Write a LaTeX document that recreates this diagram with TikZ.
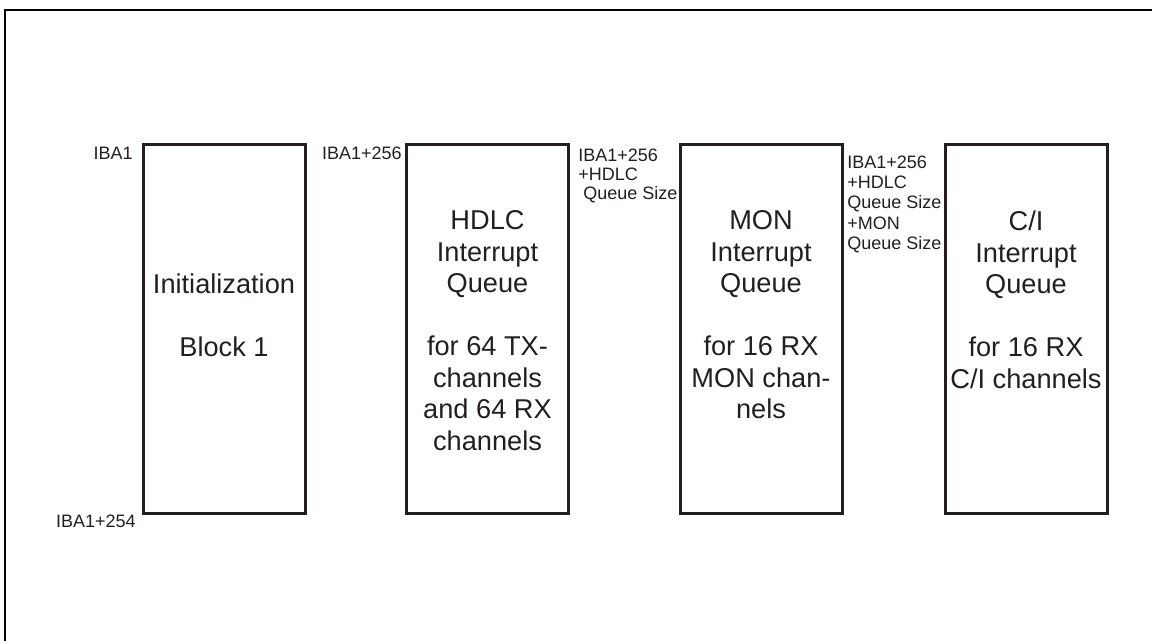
\documentclass[tikz,border=0pt]{standalone}
\usepackage{fontspec}
\setmainfont{Liberation Sans}
\usetikzlibrary{positioning}
\definecolor{ink}{RGB}{35,31,32}
\tikzset{
  qbox/.style = {rectangle, draw=ink, line width=1.5pt, minimum width=81pt, minimum height=184.5pt, inner sep=0pt},
  qtext/.style = {anchor=north, align=center, inner sep=0pt, text=ink, font=\fontsize{13.6}{15.75}\selectfont},
  addr/.style = {inner sep=0pt, text=ink, font=\fontsize{9}{10}\selectfont}
}

\begin{document}
\begin{tikzpicture}[x=0.5pt, y=-0.5pt]
\useasboundingbox (0,0) rectangle (1152,641);

% outer frame (runs off the page right and bottom)
\draw[line width=1.4pt] (1152,10) -- (5,10) -- (5,641);

% Memory blocks
\node[qbox] (initblk) at (224,329.5)  {};
\node[qbox] (hdlcq)   at (487.5,329.5) {};
\node[qbox] (monq)    at (761,329.5)  {};
\node[qbox] (ciq)     at (1026,329.5) {};

% Block texts
\node[qtext, below=65pt of initblk.north] (initt) {Initialization\\[15.75pt]Block 1};
\node[qtext, below=33.5pt of hdlcq.north] (hdlct) {HDLC\\Interrupt\\Queue\\[15.75pt]for 64 TX-\\channels\\and 64 RX\\channels};
\node[qtext, below=33.5pt of monq.north] (mont) {MON\\Interrupt\\Queue\\[15.75pt]for 16 RX\\MON chan-\\nels};
\node[qtext, below=33.5pt of ciq.north] (cit) {C/I\\Interrupt\\Queue\\[15.75pt]for 16 RX\\C/I channels};

% Start addresses
\node[addr, anchor=base east] (ainit) at (133,159.5) {IBA1};
\node[addr, anchor=base east] (aend)  at (136,527.5) {IBA1+254};
\node[addr, anchor=base east] (ahdlc) at (402,159.5) {IBA1+256};
\node[addr, anchor=north west, align=left, font=\fontsize{9}{9.5}\selectfont] (amon) at (578,148.5) {IBA1+256\\+HDLC\\~Queue Size};
\node[addr, anchor=north west, align=left, font=\fontsize{9}{10.1}\selectfont] (aci) at (847,155.5) {IBA1+256\\+HDLC\\Queue Size\\+MON\\Queue Size};

\end{tikzpicture}
\end{document}
